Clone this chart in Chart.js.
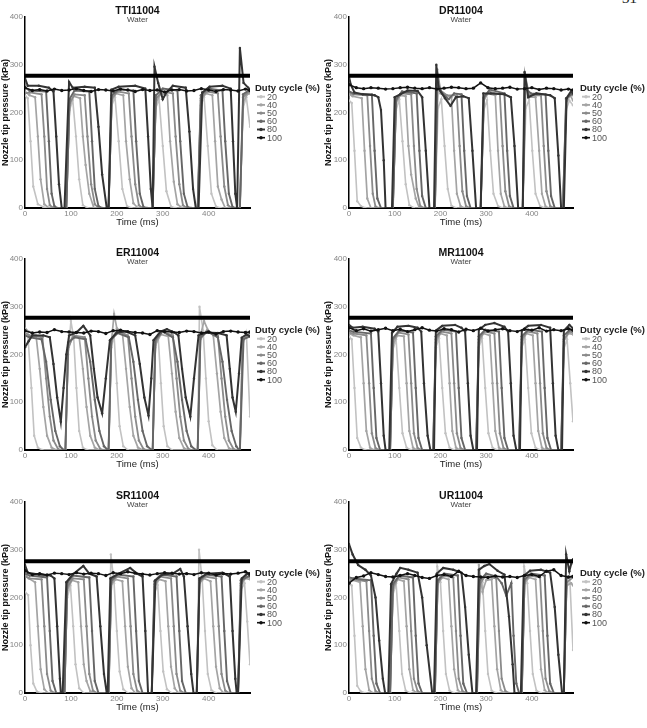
<!DOCTYPE html>
<html><head><meta charset="utf-8">
<script src="https://cdn.jsdelivr.net/npm/chart.js@4.4.1/dist/chart.umd.min.js"></script>
<style>
html,body{margin:0;padding:0;background:#fff;}
body{width:647px;height:728px;position:relative;overflow:hidden;}
canvas{position:absolute;}
#pg{position:absolute;left:622px;top:-10px;font:15px 'Liberation Serif',serif;color:#222;}
</style></head><body>
<span id="pg">31</span>
<canvas id="c0" width="323" height="243" style="left:0;top:0"></canvas>
<canvas id="c1" width="323" height="243" style="left:323px;top:0"></canvas>
<canvas id="c2" width="323" height="243" style="left:0;top:242px"></canvas>
<canvas id="c3" width="323" height="243" style="left:323px;top:242px"></canvas>
<canvas id="c4" width="323" height="243" style="left:0;top:485px"></canvas>
<canvas id="c5" width="323" height="243" style="left:323px;top:485px"></canvas>
<script>
// ---------------- data ----------------
const PANELS = ['TTI11004','DR11004','ER11004','MR11004','SR11004','UR11004'];
const SUBTITLE = 'Water';
const DUTY = ['20','40','50','60','80','100'];
const REF = [277,277,277,277,276,276];   // target pressure line (kPa)
const X_TICKS = [0,100,200,300,400];
const Y_TICKS = [0,100,200,300,400];

// 100 % duty cycle samples (time ms / pressure kPa)
const T100 = [0,16,32,48,64,80,96,112,128,144,160,176,192,208,224,240,256,272,288,304,320,336,352,368,384,400,416,432,448,464,480,490];
const TTI_100 = [252,246,248,245,249,246,247,250,246,244,248,247,245,249,247,244,248,246,247,243,247,248,245,246,250,247,244,248,247,245,249,246];
const DR_100  = [258,252,250,252,251,249,250,252,253,251,250,252,249,251,253,252,250,251,262,252,250,251,253,249,250,252,248,251,250,247,249,247];
const ER_100  = [250,245,247,246,252,248,247,246,245,249,248,244,250,251,248,246,245,242,250,248,247,246,249,248,245,247,243,248,249,247,246,247];
const MR_100  = [256,250,254,249,252,255,250,253,248,252,256,251,249,254,252,247,253,250,255,249,252,254,250,248,253,251,256,249,252,250,254,251];
const SR_100  = [256,248,250,247,251,250,248,252,249,251,250,246,252,250,254,251,249,247,250,252,251,249,250,248,252,251,247,250,249,251,254,250];
const UR_100  = [230,242,245,252,248,244,243,246,250,246,242,240,246,248,244,255,246,244,243,242,245,243,244,242,246,248,244,255,258,246,243,244];

// pulsed series: [time ms, pressure kPa]
const TTI_20 = [[0,236],[6,230],[12,140],[18,45],[28,8],[40,2],[50,0],[90,0],[97,205],[104,226],[111,150],[118,60],[126,6],[136,0],[182,0],[189,215],[196,232],[204,140],[212,40],[222,4],[232,0],[278,0],[285,210],[292,228],[300,130],[308,35],[318,3],[328,0],[376,0],[383,215],[390,232],[398,130],[406,30],[416,3],[426,0],[468,0],[475,210],[482,232],[490,170]];
const TTI_40 = [[0,244],[10,236],[22,232],[28,150],[34,60],[42,8],[52,0],[90,0],[97,215],[106,234],[120,230],[126,150],[132,90],[140,30],[150,0],[182,0],[189,225],[198,240],[214,236],[220,140],[228,60],[236,10],[246,0],[278,0],[285,220],[296,240],[310,236],[316,140],[324,55],[332,8],[342,0],[376,0],[383,225],[394,240],[408,236],[414,140],[420,45],[428,18],[436,0],[468,0],[475,222],[484,238],[490,240]];
const TTI_50 = [[0,240],[10,242],[36,238],[42,150],[48,40],[54,6],[62,0],[90,0],[97,220],[108,238],[130,236],[136,150],[144,50],[152,8],[160,0],[182,0],[189,230],[202,244],[226,240],[232,150],[240,50],[248,6],[256,0],[278,0],[285,228],[298,244],[322,240],[328,150],[336,50],[344,6],[352,0],[376,0],[383,230],[396,244],[420,240],[426,150],[434,45],[442,6],[450,0],[468,0],[475,232],[488,244],[490,243]];
const TTI_60 = [[0,252],[10,246],[46,244],[52,140],[58,30],[64,4],[70,0],[90,0],[97,228],[108,246],[140,244],[146,140],[152,40],[160,4],[168,0],[182,0],[189,236],[204,248],[236,246],[242,140],[250,30],[258,2],[266,0],[278,0],[285,236],[300,250],[332,246],[338,140],[346,30],[354,2],[362,0],[376,0],[383,236],[398,250],[430,246],[436,140],[444,30],[452,2],[458,0],[468,0],[475,238],[490,248]];
const TTI_80 = [[0,272],[6,256],[30,256],[52,252],[62,244],[68,150],[74,50],[80,0],[86,0],[96,264],[104,252],[130,254],[152,252],[160,170],[168,70],[178,0],[182,0],[188,248],[204,254],[240,256],[262,250],[268,150],[274,40],[278,0],[282,296],[290,262],[300,228],[308,242],[322,256],[350,252],[358,160],[366,40],[372,0],[378,0],[386,242],[402,254],[430,256],[448,250],[453,140],[458,30],[462,0],[468,335],[476,262],[486,252],[490,248]];

const DR_20 = [[0,225],[6,220],[12,120],[18,14],[26,4],[36,0],[96,0],[103,205],[110,228],[117,140],[124,50],[132,6],[142,0],[188,0],[195,210],[202,228],[209,130],[216,40],[224,5],[234,0],[288,0],[295,205],[302,226],[309,120],[316,30],[326,4],[336,0],[380,0],[387,210],[394,226],[401,120],[408,30],[418,4],[428,0],[468,0],[475,205],[482,225],[490,215]];
const DR_40 = [[0,238],[8,234],[28,230],[34,120],[40,20],[48,0],[96,0],[103,220],[112,236],[124,234],[130,130],[136,70],[146,20],[154,0],[188,0],[194,275],[200,240],[212,236],[224,232],[230,120],[236,30],[244,4],[252,0],[288,0],[295,225],[304,240],[320,236],[326,120],[332,30],[340,3],[348,0],[380,0],[386,265],[394,232],[408,232],[416,120],[422,30],[430,3],[438,0],[468,0],[475,220],[484,236],[490,225]];
const DR_50 = [[0,240],[10,238],[40,236],[46,130],[52,30],[58,3],[66,0],[96,0],[103,225],[114,240],[136,238],[142,130],[148,40],[156,4],[164,0],[188,0],[193,290],[200,246],[214,236],[236,236],[242,130],[248,35],[256,4],[264,0],[288,0],[295,230],[306,244],[330,238],[336,130],[342,35],[350,4],[358,0],[380,0],[385,280],[394,236],[420,236],[426,130],[432,35],[440,4],[448,0],[468,0],[475,228],[486,240],[490,236]];
const DR_60 = [[0,244],[10,240],[50,238],[56,120],[62,20],[70,0],[96,0],[103,228],[116,244],[148,240],[154,120],[160,25],[168,0],[188,0],[194,260],[204,240],[218,228],[230,240],[246,238],[252,120],[258,25],[266,0],[288,0],[295,232],[308,248],[340,240],[346,120],[352,25],[360,0],[380,0],[386,250],[398,240],[430,238],[436,120],[442,25],[450,0],[468,0],[475,230],[490,240]];
const DR_80 = [[0,275],[4,258],[12,242],[30,238],[56,236],[64,232],[70,205],[76,100],[80,0],[94,0],[100,232],[112,238],[128,246],[150,245],[160,232],[168,120],[176,0],[186,0],[191,300],[196,250],[210,230],[222,214],[234,232],[250,234],[262,230],[270,120],[278,0],[288,0],[294,240],[310,240],[340,238],[354,232],[362,130],[370,0],[380,0],[384,285],[392,232],[410,240],[440,236],[450,230],[458,110],[464,0],[470,0],[476,230],[486,245],[490,240]];

const ER_20 = [[0,250],[6,245],[14,130],[20,30],[28,5],[38,0],[88,0],[94,200],[100,270],[106,235],[112,130],[118,40],[126,5],[136,0],[182,0],[188,215],[194,240],[200,140],[206,50],[214,8],[224,0],[278,0],[284,215],[290,238],[296,140],[302,50],[310,8],[320,0],[376,0],[380,300],[388,250],[394,150],[400,60],[408,10],[418,0],[468,0],[474,220],[482,245],[490,70]];
const ER_40 = [[0,255],[8,248],[24,240],[32,170],[40,90],[48,30],[58,5],[68,0],[88,0],[94,210],[104,240],[118,236],[126,170],[134,90],[142,30],[152,5],[162,0],[182,0],[188,225],[194,285],[200,255],[212,246],[220,170],[228,90],[236,30],[246,5],[256,0],[278,0],[284,220],[296,242],[312,238],[320,160],[328,80],[336,25],[346,4],[356,0],[376,0],[382,240],[390,270],[398,252],[410,240],[418,160],[426,80],[434,25],[444,4],[454,0],[468,0],[474,230],[486,245],[490,248]];
const ER_50 = [[0,245],[10,240],[38,236],[46,150],[54,70],[62,20],[72,2],[80,0],[88,0],[94,215],[106,240],[130,236],[138,150],[146,70],[154,20],[164,2],[172,0],[182,0],[188,228],[200,250],[224,240],[232,150],[240,70],[248,20],[258,2],[266,0],[278,0],[284,226],[298,248],[322,240],[330,150],[338,70],[346,20],[356,2],[364,0],[376,0],[382,232],[396,250],[420,240],[428,150],[436,70],[444,20],[454,2],[462,0],[468,0],[474,230],[490,245]];
const ER_60 = [[0,240],[10,236],[36,232],[46,185],[56,105],[66,40],[76,8],[84,0],[88,0],[94,225],[108,236],[132,232],[142,185],[152,105],[162,40],[172,8],[180,0],[182,0],[188,232],[202,245],[226,236],[236,185],[246,105],[256,40],[266,8],[276,0],[278,0],[284,232],[300,248],[322,236],[332,185],[342,105],[352,40],[362,8],[372,0],[376,0],[382,236],[398,248],[420,236],[430,185],[440,105],[450,40],[460,8],[466,0],[468,0],[476,232],[490,238]];
const ER_80 = [[0,215],[8,228],[16,240],[40,240],[54,236],[62,180],[70,110],[78,59],[84,130],[90,200],[96,240],[112,246],[127,260],[142,240],[150,170],[158,110],[168,77],[176,150],[185,230],[200,246],[220,248],[240,240],[250,180],[260,110],[269,72],[275,150],[280,230],[295,248],[309,253],[325,246],[334,240],[342,170],[350,110],[360,70],[368,150],[378,240],[395,246],[420,245],[439,240],[446,170],[452,110],[459,80],[466,160],[472,235],[482,242],[490,238]];

const MR_20 = [[0,238],[6,232],[12,130],[18,25],[26,5],[36,0],[90,0],[96,210],[103,232],[110,130],[117,35],[126,5],[136,0],[184,0],[190,215],[197,234],[204,130],[211,35],[220,5],[230,0],[278,0],[284,215],[291,234],[298,130],[305,35],[314,5],[324,0],[372,0],[378,215],[385,232],[392,130],[399,35],[408,5],[418,0],[464,0],[470,212],[477,232],[484,140],[490,60]];
const MR_40 = [[0,244],[10,240],[26,236],[32,140],[38,40],[46,5],[54,0],[90,0],[96,220],[106,240],[120,238],[126,140],[132,40],[140,5],[148,0],[184,0],[190,225],[200,244],[214,240],[220,140],[226,40],[234,5],[242,0],[278,0],[284,225],[294,244],[308,240],[314,140],[320,40],[328,5],[336,0],[372,0],[378,225],[388,244],[402,240],[408,140],[414,40],[422,5],[430,0],[464,0],[470,228],[480,244],[490,242]];
const MR_50 = [[0,246],[10,244],[38,240],[44,140],[50,35],[58,4],[66,0],[90,0],[96,228],[108,246],[130,242],[136,140],[142,35],[150,4],[158,0],[184,0],[190,232],[202,248],[224,244],[230,140],[236,35],[244,4],[252,0],[278,0],[284,232],[296,248],[318,244],[324,140],[330,35],[338,4],[346,0],[372,0],[378,232],[390,248],[412,244],[418,140],[424,35],[432,4],[440,0],[464,0],[470,232],[482,248],[490,246]];
const MR_60 = [[0,250],[10,248],[48,244],[54,130],[60,25],[68,0],[90,0],[96,234],[110,250],[140,246],[146,130],[152,25],[160,0],[184,0],[190,238],[204,252],[234,248],[240,130],[246,25],[254,0],[278,0],[284,238],[298,252],[328,248],[334,130],[340,25],[348,0],[372,0],[378,238],[392,252],[422,248],[428,130],[434,25],[442,0],[464,0],[470,240],[484,252],[490,250]];
const MR_80 = [[0,262],[8,256],[30,258],[56,254],[64,248],[70,140],[76,30],[80,0],[88,0],[94,245],[106,258],[130,260],[150,256],[158,248],[164,140],[172,30],[178,0],[186,0],[190,250],[204,260],[232,262],[246,256],[254,248],[260,140],[266,30],[272,0],[280,0],[284,252],[298,262],[318,266],[340,258],[348,248],[354,140],[360,30],[366,0],[374,0],[378,250],[392,260],[420,262],[440,256],[446,140],[452,30],[458,0],[466,0],[470,250],[482,262],[490,255]];

const SR_20 = [[0,212],[7,205],[12,100],[18,20],[26,3],[36,0],[86,0],[92,200],[99,225],[105,140],[110,60],[118,10],[128,0],[182,0],[187,290],[194,230],[200,130],[206,45],[214,8],[224,0],[276,0],[282,210],[289,226],[295,130],[301,45],[309,8],[319,0],[374,0],[379,300],[386,235],[392,130],[398,40],[406,6],[416,0],[464,0],[470,215],[478,230],[484,150],[490,60]];
const SR_40 = [[0,248],[8,240],[22,232],[28,140],[34,50],[42,8],[50,0],[86,0],[92,215],[102,236],[116,232],[122,140],[128,60],[134,25],[142,4],[150,0],[182,0],[188,228],[198,238],[212,234],[218,140],[224,55],[232,10],[240,0],[276,0],[282,222],[292,238],[306,234],[312,140],[318,55],[326,10],[334,0],[374,0],[380,230],[390,240],[404,234],[410,140],[416,55],[424,10],[432,0],[464,0],[470,225],[480,240],[490,238]];
const SR_50 = [[0,244],[10,240],[36,238],[42,140],[48,40],[56,5],[64,0],[86,0],[92,222],[104,240],[128,238],[134,140],[140,40],[148,5],[156,0],[182,0],[188,232],[200,244],[224,240],[230,140],[236,40],[244,5],[252,0],[276,0],[282,228],[294,244],[318,240],[324,140],[330,40],[338,5],[346,0],[374,0],[380,232],[392,244],[416,240],[422,140],[428,40],[436,5],[444,0],[464,0],[470,230],[482,244],[490,242]];
const SR_60 = [[0,250],[10,246],[48,242],[54,130],[60,25],[68,0],[86,0],[92,230],[104,246],[140,242],[146,130],[152,25],[160,0],[182,0],[188,236],[202,248],[236,244],[242,130],[248,25],[256,0],[276,0],[282,234],[296,248],[330,244],[336,130],[342,25],[350,0],[374,0],[380,236],[394,248],[428,244],[434,130],[440,25],[448,0],[464,0],[470,236],[490,246]];
const SR_80 = [[0,268],[6,252],[30,248],[56,246],[64,240],[70,140],[76,30],[78,0],[82,0],[90,232],[104,248],[127,266],[140,250],[156,244],[164,140],[172,40],[178,0],[180,0],[186,240],[204,250],[229,262],[244,250],[256,244],[262,130],[268,0],[276,0],[284,236],[300,248],[322,250],[338,260],[346,244],[354,140],[362,40],[367,0],[374,0],[380,240],[396,250],[430,252],[446,244],[452,130],[458,30],[461,0],[464,0],[472,240],[484,250],[490,246]];

const UR_20 = [[0,230],[6,225],[12,120],[18,15],[26,3],[36,0],[90,0],[96,205],[103,230],[110,130],[116,40],[124,5],[134,0],[188,0],[193,265],[200,232],[206,130],[212,40],[220,5],[230,0],[280,0],[285,220],[292,232],[298,130],[304,40],[312,5],[322,0],[378,0],[383,265],[390,230],[396,130],[402,40],[410,5],[420,0],[470,0],[476,220],[483,240],[490,90]];
const UR_40 = [[0,240],[8,236],[24,232],[30,140],[36,50],[44,6],[52,0],[90,0],[96,215],[106,238],[120,234],[126,140],[132,50],[140,6],[148,0],[188,0],[194,228],[204,242],[218,238],[224,140],[230,50],[238,6],[246,0],[280,0],[284,268],[292,212],[300,236],[312,238],[318,140],[324,50],[332,6],[340,0],[378,0],[384,230],[394,242],[408,238],[414,140],[420,50],[428,6],[436,0],[470,0],[476,225],[486,230],[490,225]];
const UR_50 = [[0,236],[10,238],[38,234],[44,130],[50,30],[58,4],[66,0],[90,0],[96,222],[108,242],[130,238],[136,130],[142,30],[150,4],[158,0],[188,0],[194,232],[206,246],[228,242],[234,130],[240,30],[248,4],[256,0],[280,0],[286,228],[298,245],[322,240],[328,130],[334,30],[342,4],[350,0],[378,0],[384,235],[396,246],[418,242],[424,130],[430,30],[438,4],[446,0],[470,0],[476,232],[490,242]];
const UR_60 = [[0,242],[10,240],[48,236],[54,120],[60,20],[68,0],[90,0],[96,228],[110,246],[140,242],[146,120],[152,20],[160,0],[188,0],[194,236],[208,250],[238,246],[244,120],[250,20],[258,0],[280,0],[286,236],[300,250],[322,244],[334,230],[344,204],[355,230],[360,120],[366,20],[372,0],[378,0],[384,238],[398,250],[428,246],[434,120],[440,20],[448,0],[470,0],[476,240],[490,245]];
const UR_80 = [[0,312],[8,290],[20,268],[36,258],[48,246],[58,200],[66,110],[74,30],[79,0],[86,0],[92,228],[104,250],[112,262],[130,258],[150,252],[160,200],[170,100],[182,0],[186,0],[192,250],[206,262],[228,258],[246,252],[254,180],[262,80],[270,0],[278,0],[284,258],[296,266],[307,270],[325,256],[340,248],[350,160],[358,60],[362,0],[376,0],[382,245],[396,256],[420,258],[440,252],[450,180],[458,80],[466,0],[470,0],[475,290],[482,255],[486,270],[490,280]];

const PULSED = [
  [TTI_20,TTI_40,TTI_50,TTI_60,TTI_80],
  [DR_20,DR_40,DR_50,DR_60,DR_80],
  [ER_20,ER_40,ER_50,ER_60,ER_80],
  [MR_20,MR_40,MR_50,MR_60,MR_80],
  [SR_20,SR_40,SR_50,SR_60,SR_80],
  [UR_20,UR_40,UR_50,UR_60,UR_80]
];
const FULL = [TTI_100,DR_100,ER_100,MR_100,SR_100,UR_100];

// ---------------- styles ----------------
const FONT = "'Liberation Sans', Arial, Helvetica, sans-serif";
const COLORS = ['#c2c2c2','#a4a4a4','#8a8a8a','#666666','#333333','#111111'];
const WIDTHS = [1.6,1.7,1.8,1.9,2.0,1.5];

const panelText = {
  id: 'panelText',
  afterDraw(chart, args, o) {
    const {ctx, chartArea: a} = chart;
    ctx.save();
    const cx = (a.left + a.right) / 2;
    ctx.textAlign = 'center'; ctx.textBaseline = 'middle';
    ctx.fillStyle = '#111'; ctx.font = `bold 10.5px ${FONT}`;
    ctx.fillText(o.title, cx, 11);
    ctx.fillStyle = '#444'; ctx.font = `8px ${FONT}`;
    ctx.fillText(o.subtitle, cx, 20);
    // legend
    const lx = a.right + o.legendGap;
    ctx.textAlign = 'left';
    ctx.fillStyle = '#222'; ctx.font = `bold 9.5px ${FONT}`;
    ctx.fillText('Duty cycle (%)', lx, 88);
    ctx.font = `9px ${FONT}`;
    DUTY.forEach((d, k) => {
      const y = 96.7 + k * 8.2;
      ctx.strokeStyle = COLORS[k]; ctx.lineWidth = k === 5 ? 1.6 : 1.9;
      ctx.beginPath(); ctx.moveTo(lx + 2, y); ctx.lineTo(lx + 10, y); ctx.stroke();
      ctx.fillStyle = COLORS[k];
      ctx.beginPath(); ctx.arc(lx + 6, y, 1.7, 0, Math.PI * 2); ctx.fill();
      ctx.fillStyle = '#555';
      ctx.fillText(d, lx + 12, y + 0.5);
    });
    ctx.restore();
  }
};

function buildChart(i) {
  const col = i % 2;
  const ds = [];
  ds.push({ label: 'target', data: [{x:0,y:REF[i]},{x:490,y:REF[i]}], borderColor:'#000', borderWidth:4, pointRadius:0 });
  ds.push({ label: '100', data: T100.map((t,k)=>({x:t,y:FULL[i][k]})), borderColor: COLORS[5], borderWidth: WIDTHS[5],
            pointRadius: 1.7, pointBackgroundColor: COLORS[5], pointBorderWidth: 0 });
  for (let s = 4; s >= 0; s--) {
    ds.push({ label: DUTY[s], data: PULSED[i][s].map(p=>({x:p[0],y:p[1]})), borderColor: COLORS[s], borderWidth: WIDTHS[s],
              pointRadius: 1.2, pointBackgroundColor: COLORS[s], pointBorderWidth: 0 });
  }
  new Chart(document.getElementById('c' + i), {
    type: 'line',
    data: { datasets: ds },
    plugins: [panelText],
    options: {
      responsive: false, animation: false, events: [],
      layout: { autoPadding: false, padding: { left: 0, right: 73, top: 17, bottom: 5 } },
      elements: { line: { tension: 0 } },
      plugins: {
        legend: { display: false }, tooltip: { enabled: false },
        panelText: { title: PANELS[i], subtitle: SUBTITLE, legendGap: col ? 7 : 5 }
      },
      scales: {
        x: {
          type: 'linear', min: 0, max: 490,
          afterBuildTicks: ax => { ax.ticks = X_TICKS.map(v => ({ value: v })); },
          ticks: { includeBounds: false, padding: 1, maxRotation: 0, autoSkip: false, color: '#858585', font: { family: FONT, size: 8 } },
          grid: { display: false, drawTicks: false },
          border: { display: true, color: '#000', width: 2 },
          title: { display: true, text: 'Time (ms)', color: '#222', font: { family: FONT, size: 9.5 }, padding: { top: 0, bottom: 10.3 } },
          afterFit: ax => { ax.height = 30; }
        },
        y: {
          type: 'linear', min: 0, max: 400,
          afterBuildTicks: ax => { ax.ticks = Y_TICKS.map(v => ({ value: v })); },
          ticks: { padding: 2, color: '#858585', font: { family: FONT, size: 8 } },
          grid: { display: false, drawTicks: false },
          border: { display: true, color: '#000', width: 1.5 },
          title: { display: true, text: 'Nozzle tip pressure (kPa)', color: '#111', font: { family: FONT, size: 9, weight: 'bold' }, padding: 0 },
          afterFit: ax => { ax.width = col ? 26 : 25; }
        }
      }
    }
  });
}
for (let i = 0; i < 6; i++) buildChart(i);
</script>
</body></html>
